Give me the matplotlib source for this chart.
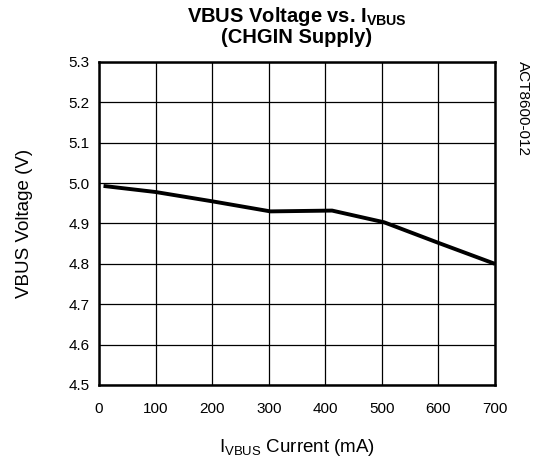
import matplotlib
matplotlib.use("Agg")
import matplotlib.pyplot as plt

plt.rcParams['font.family'] = ['Liberation Sans', 'DejaVu Sans']
plt.rcParams['mathtext.fontset'] = 'custom'
plt.rcParams['mathtext.rm'] = 'Liberation Sans'
plt.rcParams['mathtext.bf'] = 'Liberation Sans:bold'
plt.rcParams['mathtext.it'] = 'Liberation Sans:italic'

current_ma = [8, 100, 200, 303, 412, 504, 600, 700]
voltage_v = [4.993, 4.978, 4.955, 4.930, 4.932, 4.903, 4.852, 4.800]
x_ticks = [0, 100, 200, 300, 400, 500, 600, 700]
y_ticks = [4.5, 4.6, 4.7, 4.8, 4.9, 5.0, 5.1, 5.2, 5.3]

fig = plt.figure(figsize=(5.38, 4.63), dpi=100)
ax = fig.add_axes([99/538, 1-385/463, (495-99)/538, (385-62)/463])

ax.plot(current_ma, voltage_v, color='black', linewidth=2.8, solid_capstyle='butt', zorder=3)
ax.set_xlim(0, 700)
ax.set_ylim(4.5, 5.3)
ax.set_xticks(x_ticks)
ax.set_yticks(y_ticks)
ax.set_yticklabels([f"{v:.1f}" for v in y_ticks])
ax.grid(True, color='black', linewidth=0.9)
ax.tick_params(length=0, labelsize=11)
ax.tick_params(axis='x', pad=12)
ax.tick_params(axis='y', pad=7)
for s in ax.spines.values():
    s.set_linewidth(1.8)

ax.set_xlabel(r"I$_{\mathregular{VBUS}}$ Current (mA)", fontsize=13.5, labelpad=15)
ax.set_ylabel("VBUS Voltage (V)", fontsize=13.5, labelpad=25)
ax.set_title("VBUS Voltage vs. I$_{\\mathbf{VBUS}}$\n(CHGIN Supply)", fontsize=14.5,
             fontweight='bold', pad=14, linespacing=1.0)

fig.text(516/538, 1-61/463, "ACT8600-012", rotation=-90, fontsize=11,
         ha='left', va='top')

fig.savefig("out.png", dpi=100)
